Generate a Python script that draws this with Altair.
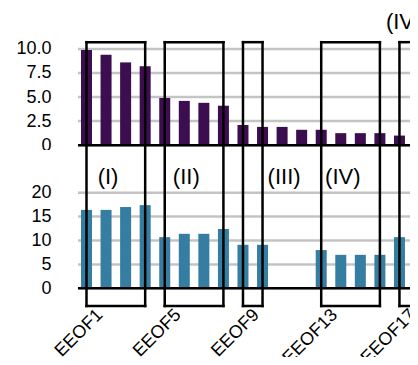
import altair as alt
import pandas as pd

categories = ["EEOF1", "EEOF2", "EEOF3", "EEOF4", "EEOF5", "EEOF6", "EEOF7", "EEOF8", "EEOF9",
              "EEOF10", "EEOF11", "EEOF12", "EEOF13", "EEOF14", "EEOF15", "EEOF16", "EEOF17", "EEOF18"]
top_values = [9.9, 9.4, 8.6, 8.2, 4.9, 4.6, 4.4, 4.1, 2.1, 1.9, 1.9, 1.6, 1.6, 1.25, 1.25, 1.25, 1.0, 1.0]
bottom_values = [16.4, 16.4, 17.0, 17.4, 10.7, 11.4, 11.4, 12.4, 9.1, 9.1, None, None, 8.0, 7.0, 7.0, 7.0, 10.7, 10.7]
tick_labels = ["EEOF1", "EEOF5", "EEOF9", "EEOF13", "EEOF17"]
top_ticks = [0, 2.5, 5, 7.5, 10]
bottom_ticks = [0, 5, 10, 15, 20]

box_start = ["EEOF1", "EEOF5", "EEOF9", "EEOF13", "EEOF17"]
box_end = ["EEOF4", "EEOF8", "EEOF10", "EEOF16", "EEOF18"]
group_labels = ["(I)", "(II)", "(III)", "(IV)"]
group_label_at = ["EEOF2", "EEOF6", "EEOF11", "EEOF14"]
corner_label = ["(IV)"]
corner_label_at = ["EEOF16"]

FONT = "Liberation Sans"
TOP_COLOR = "#3c0d4f"
BOTTOM_COLOR = "#367da2"
GRID = "#c4c4c4"
LW = 2.5
W = 402
X_DOMAIN = [-3.013, 17.539]   # category index range visible in the frame
GRID_FROM = 0.565              # grid / baseline start (category index units)
GRID_TO = 19.0

pos = {c: i + 1 for i, c in enumerate(categories)}
df_top = pd.DataFrame({"idx": [pos[c] for c in categories], "v": top_values})
df_bot = pd.DataFrame({"idx": [pos[c] for c in categories], "v": bottom_values}).dropna()
boxes = pd.DataFrame({"s": [pos[c] for c in box_start], "e": [pos[c] for c in box_end]})
glab = pd.DataFrame({"idx": [pos[c] for c in group_label_at], "t": group_labels})
clab = pd.DataFrame({"idx": [pos[c] for c in corner_label_at], "t": corner_label})
ticks_df = pd.DataFrame({"idx": [pos[c] for c in tick_labels], "t": tick_labels})

xscale = alt.Scale(domain=X_DOMAIN, nice=False, zero=False, padding=0)


def X(field):
    return alt.X(field, type="quantitative", scale=xscale, axis=None, title=None)


def panel(df, color, dom, ticks, fmt_expr, box_top, box_low, with_top_edge, height, extras):
    yscale = alt.Scale(domain=dom, nice=False, zero=False, padding=0)
    yaxis = alt.Axis(values=ticks, labelExpr=fmt_expr, ticks=False, domain=False,
                     grid=False, labelOverlap=False, offset=-43, labelPadding=0,
                     labelFont=FONT, labelFontSize=18, labelColor="black")

    def Y(field):
        return alt.Y(field, type="quantitative", scale=yscale, axis=yaxis, title=None)

    def Yd(v):
        return alt.Y(datum=v, scale=yscale, axis=yaxis, title=None)

    grid = alt.Chart(pd.DataFrame({"g": ticks})).transform_calculate(
        x0=str(GRID_FROM), x1=str(GRID_TO)
    ).mark_rule(color=GRID, strokeWidth=2.5, clip=True).encode(
        x=X("x0:Q"), x2="x1:Q", y=Y("g"))
    bars = alt.Chart(df).mark_bar(color=color, size=11, clip=True).encode(
        x=X("idx:Q"), y=Y("v"), y2=alt.datum(0))
    base = alt.Chart(pd.DataFrame({"g": [0]})).transform_calculate(
        x0=str(GRID_FROM), x1=str(GRID_TO)
    ).mark_rule(color="black", strokeWidth=LW, clip=True).encode(
        x=X("x0:Q"), x2="x1:Q", y=Y("g"))
    vs = alt.Chart(boxes).mark_rule(color="black", strokeWidth=LW, strokeCap="square",
                                    clip=True).encode(
        x=X("s:Q"), y=Yd(box_top), y2=alt.datum(box_low))
    ve = alt.Chart(boxes).mark_rule(color="black", strokeWidth=LW, strokeCap="square",
                                    clip=True).encode(
        x=X("e:Q"), y=Yd(box_top), y2=alt.datum(box_low))
    hedge = alt.Chart(boxes).mark_rule(color="black", strokeWidth=LW, strokeCap="square",
                                       clip=True).encode(
        x=X("s:Q"), x2="e:Q", y=Yd(box_top if with_top_edge else box_low))
    layers = [grid, bars, base, vs, ve, hedge]
    for (data, yv, mark_kwargs) in extras:
        layers.append(alt.Chart(data).mark_text(font=FONT, color="black", clip=True,
                                                **mark_kwargs).encode(
            x=X("idx:Q"), y=Yd(yv), text="t:N"))
    return alt.layer(*layers).properties(width=W, height=height)


top = panel(df_top, TOP_COLOR, [-0.5, 14.25], top_ticks,
            "datum.value == 0 ? '0' : format(datum.value, '.1f')", 10.7, -1.0, True, 142,
            [(clab, 12.8, dict(fontSize=22, align="left", baseline="middle", dx=6))])

bottom = panel(df_bot, BOTTOM_COLOR, [-14.37, 28.93], bottom_ticks,
               "format(datum.value, 'd')", 30.0, -3.7, False, 207,
               [(glab, 23.2, dict(fontSize=22, align="center", baseline="middle", dx=2)),
                (ticks_df, 0, dict(fontSize=18, align="right", baseline="top", angle=315,
                                   dx=-7.4, dy=17.6))])

chart = alt.vconcat(top, bottom, spacing=0, bounds="flush").properties(
    padding={"left": 0, "top": 0, "right": 0, "bottom": 0}
).configure_view(stroke=None, clip=True).configure_axis(labelOverlap=False)

chart.save("out.html", embed_options={"renderer": "svg", "actions": False})
